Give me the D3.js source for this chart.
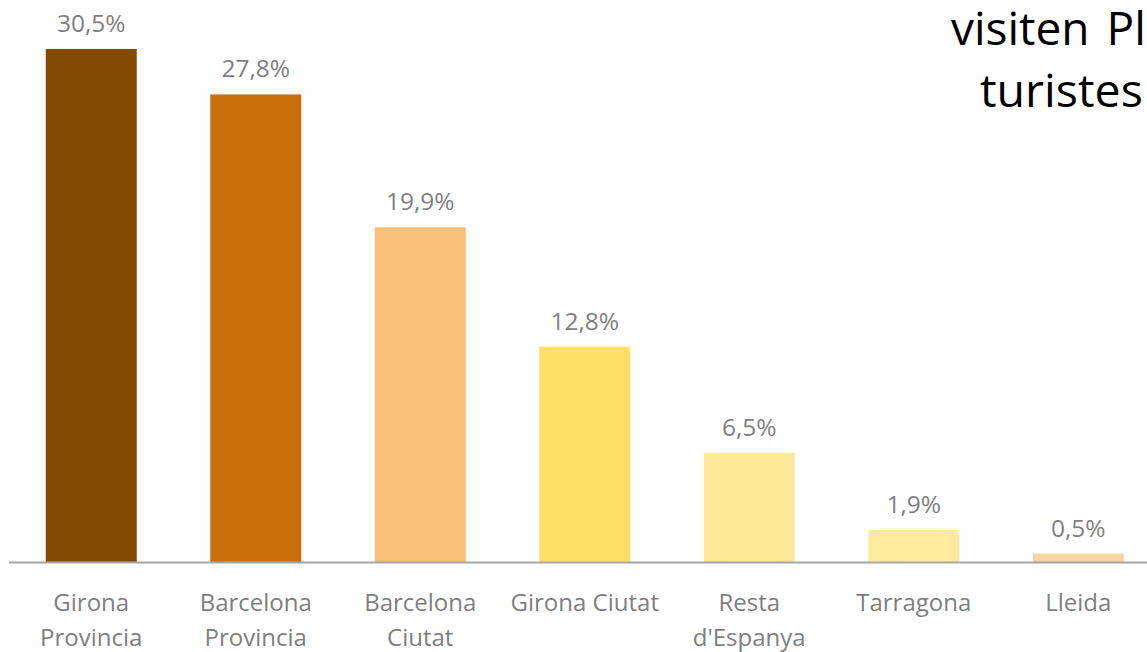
<!DOCTYPE html>
<html>
<head>
<meta charset="utf-8">
<script src="https://cdn.jsdelivr.net/npm/d3@7"></script>
<style>
  body { margin: 0; background: #fff; overflow: hidden; }
  svg { display: block; font-family: "Open Sans", "Noto Sans", sans-serif; }
</style>
</head>
<body>
<div id="chart"></div>
<script>
// data
const categories = [
  ["Girona", "Provincia"],
  ["Barcelona", "Provincia"],
  ["Barcelona", "Ciutat"],
  ["Girona Ciutat"],
  ["Resta", "d'Espanya"],
  ["Tarragona"],
  ["Lleida"]
];
const values = [30.5, 27.8, 19.9, 12.8, 6.5, 1.9, 0.5];
const barColors = ["#844a04", "#c76e0a", "#f9bf7a", "#ffdf69", "#ffe999", "#ffeb9b", "#f9d4a4"];
const titleLines = ["visiten Platja d'Aro", "turistes"];

const width = 1147, height = 652;
const baseY = 562;

const svg = d3.select("#chart").append("svg")
  .attr("width", width)
  .attr("height", height);

const x = d3.scaleBand()
  .domain(d3.range(values.length))
  .range([9, 1160.5])
  .paddingInner(0.447)
  .paddingOuter(0.2235);

const y = d3.scaleLinear()
  .domain([0, 30.5])
  .range([baseY, 49]);

// bars
svg.selectAll(".bar")
  .data(values)
  .enter().append("rect")
    .attr("class", "bar")
    .attr("x", (d, i) => x(i))
    .attr("width", x.bandwidth())
    .attr("y", d => y(d))
    .attr("height", d => baseY - y(d))
    .style("fill", (d, i) => barColors[i]);

// baseline
svg.append("line")
  .attr("x1", 9).attr("x2", width)
  .attr("y1", baseY + 0.5).attr("y2", baseY + 0.5)
  .attr("stroke", "#a6a6a6")
  .attr("stroke-width", 2);

// value labels
svg.selectAll(".label")
  .data(values)
  .enter().append("text")
    .attr("class", "label")
    .attr("x", (d, i) => x(i) + x.bandwidth() / 2)
    .attr("y", d => y(d) - 17)
    .attr("text-anchor", "middle")
    .style("font-size", "24.5px")
    .style("fill", "#7f7f7f")
    .text(d => d.toFixed(1).replace(".", ",") + "%");

// category labels
const cat = svg.selectAll(".cat")
  .data(categories)
  .enter().append("text")
    .attr("class", "cat")
    .attr("text-anchor", "middle")
    .style("font-size", "24px")
    .style("fill", "#7f7f7f");

cat.selectAll("tspan")
  .data((d, i) => d.map(t => ({t: t, i: i})))
  .enter().append("tspan")
    .attr("x", d => x(d.i) + x.bandwidth() / 2)
    .attr("y", (d, j) => 611 + j * 35)
    .text(d => d.t);

// title, cut off at the right edge
svg.append("text")
  .attr("x", 951).attr("y", 45)
  .style("font-size", "46px")
  .style("word-spacing", "5px")
  .style("fill", "#000")
  .text(titleLines[0]);
svg.append("text")
  .attr("x", 980).attr("y", 107)
  .style("font-size", "46.5px")
  .style("fill", "#000")
  .text(titleLines[1]);
</script>
</body>
</html>
